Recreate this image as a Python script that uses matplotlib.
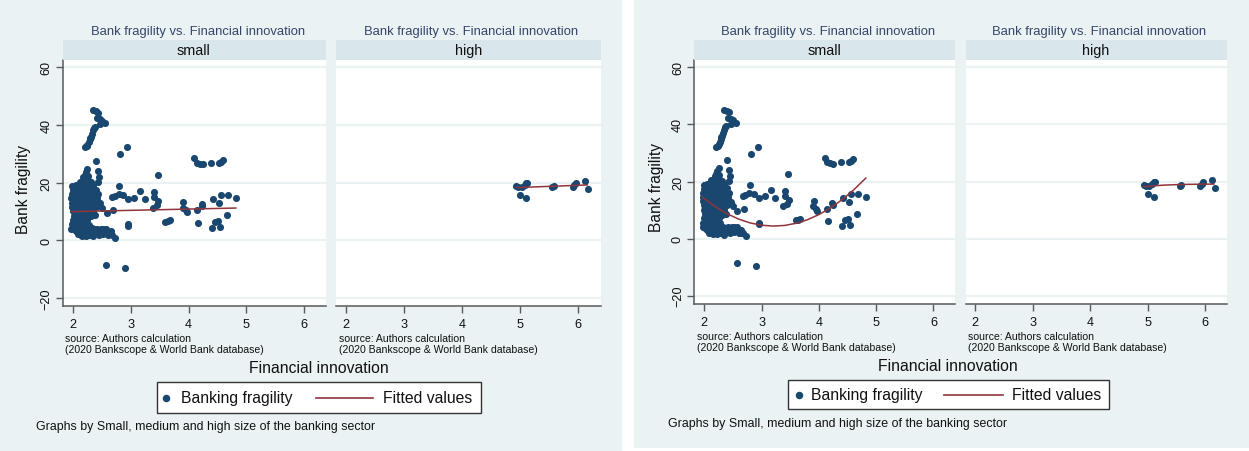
import matplotlib
matplotlib.use("Agg")
import matplotlib.pyplot as plt
from matplotlib.patches import Rectangle
from matplotlib.lines import Line2D

W, H, DPI = 1249, 452, 100

NAVY = "#1a476f"
MAROON = "#90353b"
BG = "#eaf2f3"
STRIP = "#d9e6eb"
GRID = "#eaf2f3"
TITLE_C = "#34466b"
AXIS_C = "#5a5a5a"
TEXT_C = "#111111"
FONT = "Liberation Sans"

# ---------------- data ----------------
panel_labels = ["small", "high"]
title_text = "Bank fragility vs. Financial innovation"
x_title = "Financial innovation"
y_title = "Bank fragility"
legend_labels = ["Banking fragility", "Fitted values"]
note_text = "Graphs by Small, medium and high size of the banking sector"
source_lines = ["source: Authors calculation", "(2020 Bankscope & World Bank database)"]
xticks = [2, 3, 4, 5, 6]
yticks = [-20, 0, 20, 40, 60]

# small banking sector: financial innovation vs bank fragility
small_x = [
    # upper arm
    2.35, 2.40, 2.44, 2.41, 2.46, 2.50, 2.55, 2.47, 2.38, 2.35, 2.33, 2.31, 2.29, 2.27,
    2.25, 2.21, 2.24, 2.30, 2.36,
    # scattered
    2.81, 2.94, 2.39, 2.43, 2.44, 2.45, 3.47, 1.99, 2.25, 2.23, 2.20,
    2.80, 2.67, 2.72, 2.79, 2.87, 2.96, 3.06, 3.16, 3.24, 3.41, 3.41, 3.48, 3.38, 3.45,
    2.50, 2.58, 2.70, 2.38, 2.96, 2.95, 3.60, 3.68, 3.64, 2.57, 2.90, 2.73, 2.64,
    3.91, 3.90, 3.97, 4.14, 4.23, 4.16, 4.10, 4.14, 4.25, 4.20, 4.39, 4.53, 4.59, 4.56,
    4.43, 4.53, 4.56, 4.68, 4.82, 4.66, 4.41, 4.46, 4.51, 4.55, 3.95, 4.24,
    # dense block
    2.18, 2.22, 2.26,
    2.12, 2.17, 2.23, 2.27, 2.31,
    2.05, 2.11, 2.15, 2.21, 2.24, 2.30, 2.34,
    2.00, 2.06, 2.12, 2.16, 2.20, 2.27, 2.31, 2.36, 2.40,
    1.98, 2.04, 2.09, 2.13, 2.19, 2.25, 2.29, 2.33, 2.39, 2.44,
    1.97, 2.02, 2.08, 2.12, 2.18, 2.22, 2.26, 2.32, 2.37, 2.41,
    1.98, 2.03, 2.07, 2.13, 2.19, 2.23, 2.28, 2.34, 2.38, 2.43, 2.47,
    1.99, 2.05, 2.09, 2.14, 2.18, 2.24, 2.29, 2.35, 2.39,
    2.00, 2.04, 2.10, 2.16, 2.20, 2.25, 2.30, 2.35,
    2.01, 2.06, 2.12, 2.16, 2.21, 2.26, 2.31,
    2.00, 2.05, 2.11, 2.15, 2.20, 2.25,
    1.98, 2.03, 2.08, 2.14, 2.18, 2.23, 2.28,
    1.97, 2.02, 2.07, 2.13, 2.17, 2.22, 2.27, 2.33, 2.37, 2.42, 2.48, 2.52, 2.57,
    2.05, 2.10, 2.16, 2.20, 2.30, 2.40, 2.45, 2.51, 2.55, 2.61, 2.65,
    2.08, 2.13, 2.18, 2.24, 2.28, 2.35, 2.45, 2.52, 2.60, 2.68,
    2.15, 2.22, 2.35,
]
small_y = [
    45.2, 44.8, 44.3, 42.3, 41.9, 41.4, 40.6, 40.2, 39.4, 38.2, 37.0, 36.0, 35.0, 34.0,
    33.2, 32.2, 32.6, 35.5, 39.0,
    29.8, 32.2, 27.5, 24.0, 20.2, 22.0, 22.5, 18.8, 24.6, 23.7, 22.5,
    18.8, 15.1, 15.3, 15.9, 15.6, 14.4, 14.8, 17.1, 14.2, 16.8, 15.1, 13.6, 11.3, 12.1,
    11.3, 9.6, 10.5, 8.7, 5.5, 5.0, 6.4, 6.9, 6.6, -8.7, -9.7, 0.9, 2.1,
    13.3, 11.3, 9.8, 10.5, 12.5, 6.1, 28.4, 26.7, 26.3, 26.5, 26.7, 26.9, 27.8, 27.3,
    14.2, 12.8, 15.7, 15.6, 14.6, 8.7, 4.4, 6.4, 6.7, 4.6, 10.5, 11.8,
    22.1, 21.8, 22.3,
    20.4, 20.7, 20.3, 20.6, 20.2,
    19.1, 18.8, 19.2, 18.9, 19.3, 18.7, 19.0,
    17.4, 17.7, 17.3, 17.6, 17.5, 17.2, 17.8, 17.4, 17.6,
    16.1, 15.9, 16.2, 15.8, 16.0, 16.3, 15.9, 16.1, 15.7, 16.0,
    14.6, 14.3, 14.7, 14.4, 14.5, 14.8, 14.2, 14.6, 14.4, 14.7,
    13.1, 12.8, 13.2, 12.9, 13.0, 13.3, 12.7, 13.1, 12.9, 13.2, 12.8,
    11.6, 11.3, 11.7, 11.4, 11.5, 11.2, 11.6, 11.4, 11.7,
    10.1, 9.8, 10.2, 9.9, 10.0, 10.3, 9.9, 10.1,
    8.6, 8.4, 8.7, 8.3, 8.5, 8.6, 8.4,
    7.1, 6.8, 7.2, 6.9, 7.0, 7.1,
    5.6, 5.3, 5.7, 5.4, 5.5, 5.6, 5.4,
    4.1, 3.8, 4.2, 3.9, 4.0, 4.1, 3.9, 4.2, 3.8, 4.0, 4.1, 3.9, 4.0,
    3.1, 2.8, 3.2, 2.9, 3.0, 3.1, 2.9, 3.2, 2.8, 3.0, 3.1,
    2.1, 1.8, 2.2, 1.9, 2.0, 2.1, 1.9, 2.2, 1.8, 2.0,
    1.5, 1.6, 1.4,
]

# high banking sector
high_x = [4.94, 4.97, 5.03, 5.08, 5.11, 5.12, 5.00, 5.11, 5.56, 5.58, 5.91, 5.94, 5.97, 6.12, 6.17]
high_y = [18.9, 18.4, 18.6, 19.2, 19.8, 20.0, 15.6, 14.6, 18.5, 18.9, 18.4, 19.2, 19.9, 20.6, 17.7]

# linear fitted values
lfit_small_x = [1.98, 4.82]
lfit_small_y = [9.95, 11.2]
lfit_high_x = [4.945, 6.164]
lfit_high_y = [18.3, 19.2]

# quadratic fitted values
qfit_small_x = [1.97, 2.2, 2.4, 2.6, 2.8, 3.0, 3.2, 3.4, 3.6, 3.8, 4.0, 4.2, 4.4, 4.6, 4.82]
qfit_small_y = [14.5, 11.1, 8.7, 6.85, 5.5, 4.7, 4.4, 4.6, 5.35, 6.6, 8.4, 10.7, 13.55, 16.9, 21.2]
qfit_high_x = [4.93, 5.1, 5.3, 5.5, 5.7, 5.9, 6.15]
qfit_high_y = [18.2, 18.5, 18.75, 18.9, 19.0, 19.05, 19.1]

# ---------------- figure ----------------
fig = plt.figure(figsize=(W / DPI, H / DPI), dpi=DPI)
fig.patch.set_facecolor("white")


def fx(px):
    return px / W


def fy(py):
    return 1 - py / H


def rect(x0, y0, x1, y1, **kw):
    fig.add_artist(Rectangle((fx(x0), fy(y1)), (x1 - x0) / W, (y1 - y0) / H,
                             transform=fig.transFigure, **kw))


def ftext(x, y, s, **kw):
    kw.setdefault("family", FONT)
    kw.setdefault("color", TEXT_C)
    fig.text(fx(x), fy(y), s, **kw)


def draw_graph(g):
    rect(*g["bg"], facecolor=BG, edgecolor="none", zorder=0)
    top, bot = g["plot_y"]
    series = [(small_x, small_y, g["fits"][0]), (high_x, high_y, g["fits"][1])]
    for i, (pl, pr) in enumerate(g["panels_x"]):
        ax = fig.add_axes([fx(pl), fy(bot), (pr - pl) / W, (bot - top) / H])
        ax.set_facecolor("white")
        ax.set_xlim(*g["xlims"][i])
        ax.set_ylim(*g["ylim"])
        ax.set_yticks(yticks)
        ax.set_xticks(xticks)
        ax.grid(axis="y", color=GRID, lw=1.6, zorder=0)
        ax.set_axisbelow(True)
        for s in ("top", "right"):
            ax.spines[s].set_visible(False)
        ax.spines["bottom"].set_color(AXIS_C)
        ax.spines["bottom"].set_linewidth(1.1)
        ax.tick_params(axis="x", direction="out", length=5, width=1, color=AXIS_C,
                       labelsize=9.1, pad=3.4, labelcolor=TEXT_C)
        if i == 0:
            ax.spines["left"].set_color(AXIS_C)
            ax.spines["left"].set_linewidth(1.1)
            ax.tick_params(axis="y", direction="out", length=5, width=1, color=AXIS_C,
                           labelsize=9.1, pad=2.4, labelcolor=TEXT_C)
            for lab in ax.get_yticklabels():
                lab.set_rotation(90)
                lab.set_va("center")
        else:
            ax.spines["left"].set_visible(False)
            ax.tick_params(axis="y", length=0, labelleft=False)
        for lab in ax.get_xticklabels() + ax.get_yticklabels():
            lab.set_family(FONT)
        xs, ys, (fxs, fys) = series[i]
        ax.scatter(xs, ys, s=26, color=NAVY, linewidths=0, zorder=3)
        ax.plot(fxs, fys, color=MAROON, lw=1.1, zorder=4)
        # strip with panel label
        rect(pl, g["strip_y"][0], pr, g["strip_y"][1], facecolor=STRIP, edgecolor="none", zorder=1)
        ftext(g["strip_cx"][i], (g["strip_y"][0] + g["strip_y"][1]) / 2, panel_labels[i],
              fontsize=10.4, ha="center", va="center")
        ftext(g["title_cx"][i], g["title_y"], title_text, fontsize=9.4, color=TITLE_C,
              ha="center", va="center")
        ftext(g["source_x"][i], g["source_y"][0], source_lines[0], fontsize=7.6, ha="left", va="center")
        ftext(g["source_x"][i], g["source_y"][1], source_lines[1], fontsize=7.6, ha="left", va="center")

    ftext(*g["ylabel_xy"], y_title, fontsize=11.2, rotation=90, ha="center", va="center")
    ftext(*g["xlabel_xy"], x_title, fontsize=11.3, ha="center", va="center")

    # legend
    lx0, ly0, lx1, ly1 = g["legend_box"]
    rect(lx0, ly0, lx1, ly1, facecolor="white", edgecolor="#333333", lw=1.0, zorder=2)
    cy = (ly0 + ly1) / 2
    fig.add_artist(Line2D([fx(g["leg_marker_x"])], [fy(cy)], marker="o", ms=4.4, color=NAVY,
                          linestyle="none", transform=fig.transFigure, zorder=3))
    ftext(g["leg_text_x"][0], cy, legend_labels[0], fontsize=11.3, ha="left", va="center")
    fig.add_artist(Line2D([fx(g["leg_line_x"][0]), fx(g["leg_line_x"][1])], [fy(cy), fy(cy)],
                          color=MAROON, lw=1.2, transform=fig.transFigure, zorder=3))
    ftext(g["leg_text_x"][1], cy, legend_labels[1], fontsize=11.3, ha="left", va="center")

    ftext(g["note_xy"][0], g["note_xy"][1], note_text, fontsize=8.9, ha="left", va="center")


graph_left = dict(
    bg=(0, 1, 622, 452),
    plot_y=(61, 307),
    panels_x=[(62.5, 326), (336, 601)],
    xlims=[(1.818, 6.381), (1.824, 6.399)],
    ylim=(-22.77, 62.53),
    strip_y=(41, 61),
    strip_cx=[193.7, 468.2],
    title_cx=[197.6, 471.4],
    title_y=31.7,
    source_x=[65, 339],
    source_y=[339.5, 350],
    ylabel_xy=(24, 190),
    xlabel_xy=(318.6, 369),
    legend_box=(157.3, 383.3, 481, 414.3),
    leg_marker_x=165.7,
    leg_text_x=[181, 383.3],
    leg_line_x=[315.7, 373.3],
    note_xy=(36.4, 427),
    fits=[(lfit_small_x, lfit_small_y), (lfit_high_x, lfit_high_y)],
)

graph_right = dict(
    bg=(634, 1, 1249, 449),
    plot_y=(61, 305),
    panels_x=[(694.2, 955.3), (965.8, 1226.6)],
    xlims=[(1.825, 6.382), (1.833, 6.373)],
    ylim=(-22.9, 62.56),
    strip_y=(41, 61),
    strip_cx=[824.2, 1095.3],
    title_cx=[827.8, 1099.1],
    title_y=31.7,
    source_x=[697, 968],
    source_y=[337, 348],
    ylabel_xy=(656, 188),
    xlabel_xy=(948, 367),
    legend_box=(788.5, 381, 1108.6, 410),
    leg_marker_x=798.5,
    leg_text_x=[811.3, 1012.3],
    leg_line_x=[944, 1003],
    note_xy=(668, 424),
    fits=[(qfit_small_x, qfit_small_y), (qfit_high_x, qfit_high_y)],
)

draw_graph(graph_left)
draw_graph(graph_right)

fig.savefig("out.png", dpi=DPI, facecolor="white")
